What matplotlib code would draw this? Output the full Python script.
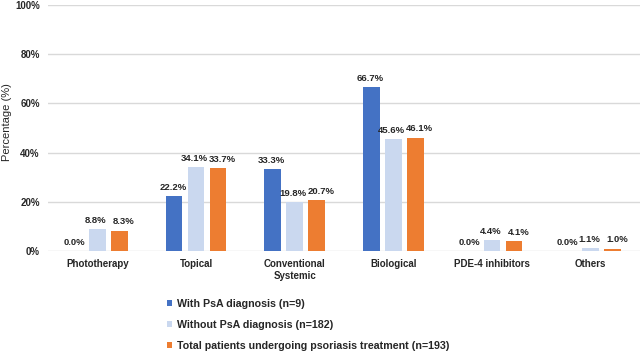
import numpy as np
import matplotlib.pyplot as plt
from matplotlib import font_manager
from matplotlib.ticker import PercentFormatter

categories = ["Phototherapy", "Topical", "Conventional\nSystemic", "Biological",
              "PDE-4 inhibitors", "Others"]
with_psa = [0.0, 22.2, 33.3, 66.7, 0.0, 0.0]
without_psa = [8.8, 34.1, 19.8, 45.6, 4.4, 1.1]
total = [8.3, 33.7, 20.7, 46.1, 4.1, 1.0]
series_names = ["With PsA diagnosis (n=9)",
                "Without PsA diagnosis (n=182)",
                "Total patients undergoing psoriasis treatment (n=193)"]
colors = ["#4472C4", "#CAD8EF", "#ED7D31"]

# keep the condensed Liberation files from being picked for the regular family
font_manager.fontManager.ttflist = [f for f in font_manager.fontManager.ttflist
                                    if 'Narrow' not in f.fname and 'Narrow' not in f.name]
plt.rcParams['font.family'] = ['Liberation Sans', 'DejaVu Sans']

fig = plt.figure(figsize=(6.44, 3.55), dpi=100)
ax = fig.add_axes([48 / 644, 1 - 251 / 355, 592 / 644, 246 / 355])

x = np.arange(len(categories))
width = 0.172
step = 0.223
label_shift = [-1, -1.5, 4.5]  # pixels, labels sit a bit apart like the original
for i, (vals, name, col) in enumerate(zip([with_psa, without_psa, total], series_names, colors)):
    bars = ax.bar(x + (i - 1) * step, vals, width, color=col, label=name, zorder=3)
    for b, v in zip(bars, vals):
        ax.annotate(f"{v:.1f}%", (b.get_x() + b.get_width() / 2, v),
                    xytext=(label_shift[i] * 0.72, 3), textcoords='offset points',
                    ha='center', va='bottom', fontsize=6.8, fontweight='bold', color='#262626')

ax.set_xlim(-0.5, len(categories) - 0.5)
ax.set_ylim(0, 100)
ax.set_yticks(range(0, 101, 20))
ax.yaxis.set_major_formatter(PercentFormatter(decimals=0))
ax.set_xticks(x)
ax.set_xticklabels(categories, fontsize=7, fontweight='bold', color='#262626')
for lab in ax.get_yticklabels():
    lab.set_fontsize(7)
    lab.set_fontweight('bold')
    lab.set_color('#262626')
ax.tick_params(length=0, pad=6)
ax.grid(axis='y', color='#D9D9D9', linewidth=1, zorder=0)
for s in ax.spines.values():
    s.set_visible(False)
ax.set_ylabel("Percentage (%)", fontsize=8, color='#262626')
ax.yaxis.set_label_coords(-36 / 592, 0.525)

handles, labels = ax.get_legend_handles_labels()
leg = fig.legend(handles, labels, loc='upper left', bbox_to_anchor=(167 / 644, 1 - 299 / 355),
                 frameon=False, fontsize=7.7, handlelength=0.5, handleheight=0.5,
                 handletextpad=0.4, labelspacing=1.02, borderaxespad=0, borderpad=0)
for t in leg.get_texts():
    t.set_fontweight('bold')
    t.set_color('#262626')

fig.savefig("out.png", dpi=100)
